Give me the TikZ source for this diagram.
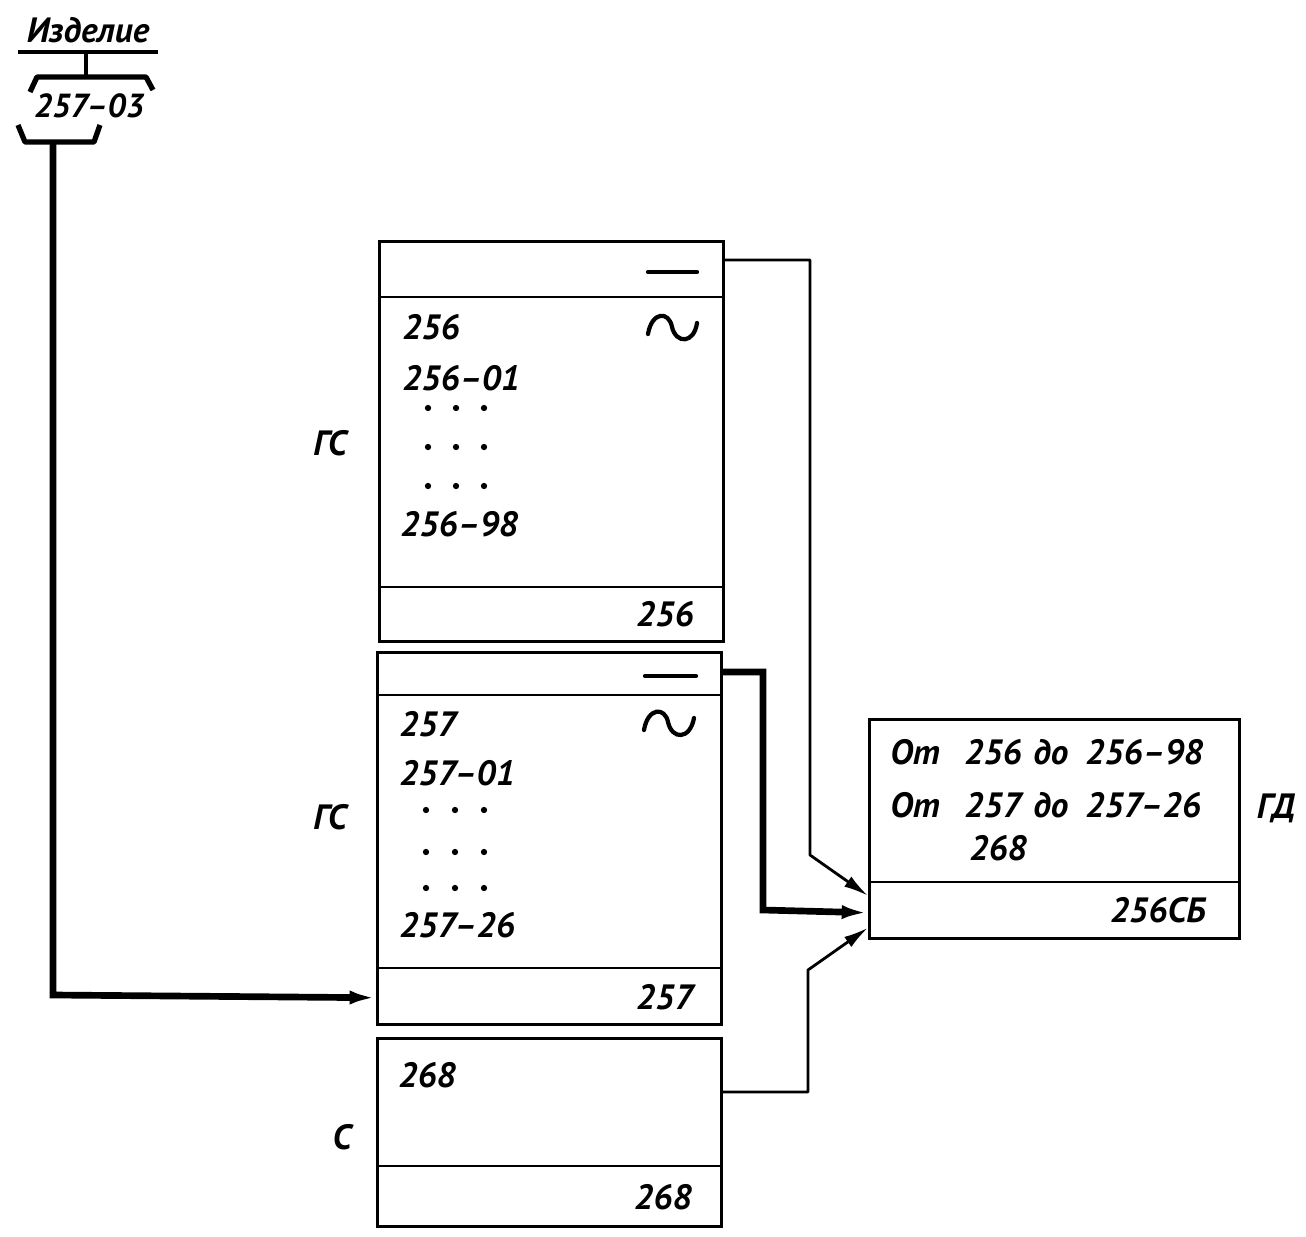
\documentclass[tikz,border=0pt]{standalone}
\usepackage{fontspec}
\setmainfont{PT Sans}
\usetikzlibrary{arrows.meta,calc}
\begin{document}
\begin{tikzpicture}[x=0.02cm,y=-0.02cm,
  every node/.style={font=\fontsize{20}{24}\selectfont\bfseries\itshape, inner sep=0pt},
  boxst/.style={draw, line width=1.6pt, anchor=north west, minimum width=6.88cm},
  sep/.style={line width=1.6pt},
  lbl/.style={anchor=west},
  rlbl/.style={anchor=east},
  thinconn/.style={line width=1.6pt, -{Latex[length=14pt,width=7pt]}},
  thickconn/.style={line width=3.8pt, -{Latex[length=15pt,width=8pt]}},
  dotst/.style={fill=black, draw=none},
  symst/.style={line width=2.4pt, line cap=round}
]
\useasboundingbox (0,0) rectangle (1306,1237);

% ---- Izdelie
\node (izd) at (88,30) {Изделие};
\draw[line width=2.2pt] (18,52) -- (158,52);
\draw[line width=2pt] (86,52) -- (86,77);
\draw[line width=3pt, line join=round] (30,92) -- (37,77) -- (146,77) -- (153,90);
\node[font=\fontsize{19}{22}\selectfont\bfseries\itshape] (izdnum) at (89,106) {257–03};
\draw[line width=3pt, line join=round] (18,125) -- (25,142) -- (94,142) -- (100,125);
\coordinate (izdb) at (53,142);

% ---- Box 1
\node[boxst, minimum height=8cm] (b1) at (378,240) {};
\draw[sep] (378,297) -- (722,297);
\draw[sep] (378,587) -- (722,587);
\draw[symst] (648,272) -- (697,272);
\draw[symst] (648,334) .. controls (652,311) and (669,311) .. (672,327) .. controls (676,344) and (694,344) .. (697,323);
\node[lbl] (t256) at (402,327) {256};
\node[lbl] (t25601) at (402,378) {256–01};
\foreach \yy in {408,447,486} \foreach \xx in {428,456,484} \fill[dotst] (\xx,\yy) circle (1.8pt);
\node[lbl] (t25698) at (400,524) {256–98};
\node[rlbl] (b1num) at (694,614) {256};
\node (gs1) at (330,443) {ГС};

% ---- Box 2
\node[boxst, minimum height=7.44cm] (b2) at (376,651) {};
\draw[sep] (376,695) -- (720,695);
\draw[sep] (376,968) -- (720,968);
\draw[symst] (645,676) -- (696,676);
\draw[symst] (644,730) .. controls (648,707) and (665,707) .. (668,722) .. controls (672,740) and (690,740) .. (694,718);
\node[lbl] (t257) at (399,724) {257};
\node[lbl] (t25701) at (399,773) {257–01};
\foreach \yy in {810,852,888} \foreach \xx in {426,455,484} \fill[dotst] (\xx,\yy) circle (1.8pt);
\node[lbl] (t25726) at (399,925) {257–26};
\node[rlbl] (b2num) at (694,997) {257};
\node (gs2) at (330,817) {ГС};

% ---- Box 3
\node[boxst, minimum height=3.76cm] (b3) at (376,1037) {};
\draw[sep] (376,1166) -- (720,1166);
\node[lbl] (t268) at (398,1075) {268};
\node[rlbl] (b3num) at (692,1197) {268};
\node (s3) at (342,1137) {С};

% ---- Box GD
\node[boxst, minimum width=7.4cm, minimum height=4.38cm] (gd) at (868,718) {};
\draw[sep] (868,882) -- (1238,882);
\node[lbl] (ot1) at (890,752) {От};
\node[lbl] (a1) at (964,752) {256};
\node[lbl] (do1) at (1033,752) {до};
\node[lbl] (b1t) at (1085,752) {256–98};
\node[lbl] (ot2) at (890,805) {От};
\node[lbl] (a2) at (964,805) {257};
\node[lbl] (do2) at (1033,805) {до};
\node[lbl] (b2t) at (1085,805) {257–26};
\node[lbl] (c268) at (969,848) {268};
\node[rlbl] (gdnum) at (1206,910) {256СБ};
\node (gdl) at (1276,808) {ГД};

% ---- connectors
\draw[thinconn, line join=round] ($(b1.north east)+(0,20)$) -- (810,260) -- (810,855) -- ($(gd.south west)+(0,-44)$);
\draw[thickconn, line join=miter] ($(b2.north east)+(0,21)$) -- (763,672) -- (763,910) -- ($(gd.south west)+(0,-27)$);
\draw[thinconn, line join=round] ($(b3.north east)+(0,55)$) -- (808,1092) -- (808,970) -- ($(gd.south west)+(0,-12)$);
\draw[thickconn] (izdb) -- (53,995) -- ($(b2.south west)+(0,-28)$);
\end{tikzpicture}
\end{document}
